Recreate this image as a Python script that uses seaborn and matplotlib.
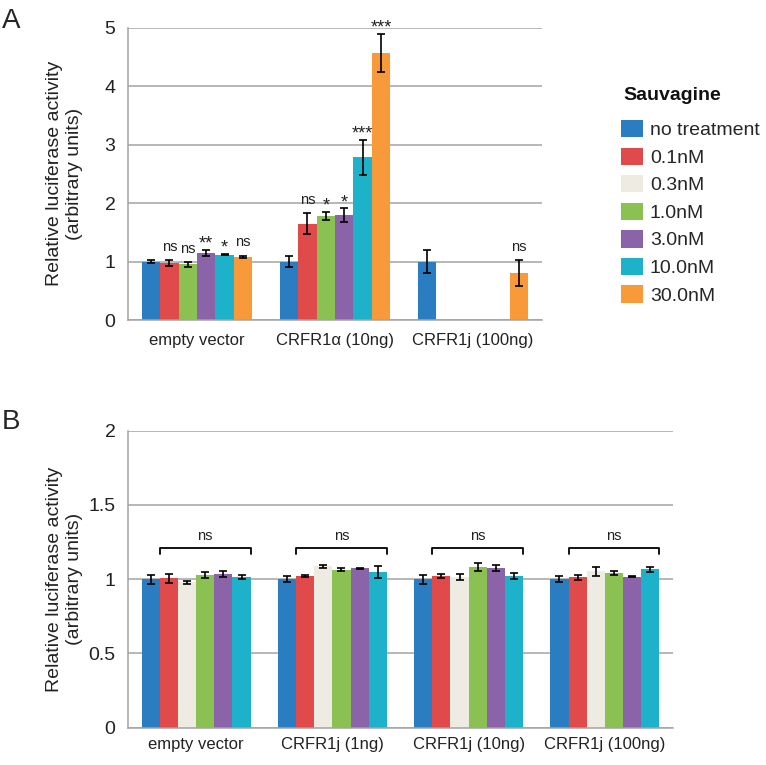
import numpy as np
import pandas as pd
import matplotlib
matplotlib.use('Agg')
import matplotlib.pyplot as plt
import matplotlib.transforms as mtransforms
from matplotlib.patches import Patch
import seaborn as sns

# legend / colour scheme shared by both panels
treatments = ['no treatment', '0.1nM', '0.3nM', '1.0nM', '3.0nM', '10.0nM', '30.0nM']
colors = ['#2a7dc0', '#e04a4b', '#eeebe3', '#8bc053', '#8a63a8', '#1eb1ca', '#f89a3a']

# panel A (0.3nM not tested here)
groups_a = ['empty vector', 'CRFR1α (10ng)', 'CRFR1j (100ng)']
treat_a = ['no treatment', '0.1nM', '1.0nM', '3.0nM', '10.0nM', '30.0nM']
mean_a = [
    [1.00, 1.00, 1.00],
    [0.97, 1.645, np.nan],
    [0.955, 1.78, np.nan],
    [1.15, 1.79, np.nan],
    [1.12, 2.78, np.nan],
    [1.08, 4.57, 0.80],
]
err_a = [
    [0.02, 0.10, 0.20],
    [0.05, 0.18, np.nan],
    [0.04, 0.07, np.nan],
    [0.05, 0.12, np.nan],
    [0.01, 0.30, np.nan],
    [0.02, 0.32, 0.22],
]
sig_a = [
    ['', '', ''],
    ['ns', 'ns', ''],
    ['ns', '*', ''],
    ['**', '*', ''],
    ['*', '***', ''],
    ['ns', '***', 'ns'],
]
yticks_a = [0, 1, 2, 3, 4, 5]
yticklabels_a = ['0', '1', '2', '3', '4', '5']

# panel B (no 30nM)
groups_b = ['empty vector', 'CRFR1j (1ng)', 'CRFR1j (10ng)', 'CRFR1j (100ng)']
treat_b = ['no treatment', '0.1nM', '0.3nM', '1.0nM', '3.0nM', '10.0nM']
mean_b = [
    [1.00, 1.00, 1.00, 1.00],
    [1.007, 1.02, 1.02, 1.013],
    [0.98, 1.088, 1.016, 1.052],
    [1.03, 1.063, 1.08, 1.043],
    [1.034, 1.072, 1.077, 1.016],
    [1.013, 1.05, 1.023, 1.065],
]
err_b = [
    [0.03, 0.02, 0.03, 0.02],
    [0.03, 0.005, 0.015, 0.016],
    [0.01, 0.01, 0.02, 0.03],
    [0.02, 0.01, 0.025, 0.013],
    [0.02, 0.006, 0.02, 0.005],
    [0.013, 0.04, 0.02, 0.017],
]
sig_b = ['ns', 'ns', 'ns', 'ns']
yticks_b = [0, 0.5, 1, 1.5, 2]
yticklabels_b = ['0', '0.5', '1', '1.5', '2']

GRID = '#a3a3a3'
TXT = '#222222'
W, H = 766, 765


def to_frame(groups, treats, means, errs, sigs):
    rows = []
    for t, m_row, e_row, s_row in zip(treats, means, errs, sigs):
        for g, m, e, s in zip(groups, m_row, e_row, s_row):
            if not np.isnan(m):
                rows.append(dict(group=g, treatment=t, value=m, err=e, sig=s))
    return pd.DataFrame(rows)


def draw_panel(ax, df, groups, treats, yticks, yticklabels, xpad):
    sns.barplot(data=df, x='group', y='value', hue='treatment', order=groups,
                hue_order=treats, palette=dict(zip(treatments, colors)),
                errorbar=None, width=0.8, saturation=1, legend=False,
                linewidth=0, ax=ax, zorder=2)
    spans = {}
    for t, cont in zip(treats, ax.containers):
        for bar in cont:
            xc = bar.get_x() + bar.get_width() / 2
            gi = int(round(xc))
            row = df[(df.group == groups[gi]) & (df.treatment == t)].iloc[0]
            ax.errorbar(xc, row.value, yerr=row.err, fmt='none', ecolor='black',
                        elinewidth=1.2, capsize=2.6, capthick=1.2, zorder=3)
            if row.sig == 'ns':
                ax.annotate(row.sig, (xc, row.value + row.err), xytext=(0, 4.5),
                            textcoords='offset points', ha='center', va='bottom',
                            fontsize=10.5, color=TXT)
            elif row.sig:
                ax.annotate(row.sig, (xc, row.value + row.err), xytext=(0, -2),
                            textcoords='offset points', ha='center', va='bottom',
                            fontsize=13, color=TXT)
            lo, hi = spans.get(gi, (np.inf, -np.inf))
            spans[gi] = (min(lo, bar.get_x() + bar.get_width()),
                         max(hi, bar.get_x() + bar.get_width()))

    ax.set_ylim(yticks[0], yticks[-1])
    ax.set_yticks(yticks)
    ax.set_yticklabels(yticklabels)
    ax.set_xlim(-0.5, len(groups) - 0.5)
    ax.set_axisbelow(True)
    ax.yaxis.grid(True, color=GRID, linewidth=1.1)
    ax.xaxis.grid(False)
    for s in ['top', 'right']:
        ax.spines[s].set_visible(False)
    for s in ['left', 'bottom']:
        ax.spines[s].set_color(GRID)
        ax.spines[s].set_linewidth(1.1)
    ax.tick_params(axis='y', length=5, width=1.1, color=GRID, labelsize=14,
                   pad=4, labelcolor=TXT)
    ax.tick_params(axis='x', length=0, labelsize=12, pad=xpad, labelcolor=TXT)
    ax.set_xlabel('')
    ax.set_ylabel('Relative luciferase activity\n(arbitrary units)', fontsize=14,
                  linespacing=1.25, color=TXT)
    trans = mtransforms.blended_transform_factory(ax.figure.transFigure, ax.transAxes)
    ax.yaxis.set_label_coords(83 / W, 0.5, transform=trans)
    return spans


sns.set_style('white')
plt.rcParams['font.family'] = ['Liberation Sans', 'DejaVu Sans']

fig = plt.figure(figsize=(W / 100, H / 100), dpi=100)
ax_a = fig.add_axes([128 / W, 1 - 320 / H, (542 - 128) / W, (320 - 27.7) / H])
ax_b = fig.add_axes([128 / W, 1 - 727.7 / H, (673 - 128) / W, (727.7 - 430.5) / H])

df_a = to_frame(groups_a, treat_a, mean_a, err_a, sig_a)
df_b = to_frame(groups_b, treat_b, mean_b, err_b, [[''] * 4] * 6)

draw_panel(ax_a, df_a, groups_a, treat_a, yticks_a, yticklabels_a, xpad=9)
spans = draw_panel(ax_b, df_b, groups_b, treat_b, yticks_b, yticklabels_b, xpad=7)

# brackets over each group in panel B
for gi, (lo, hi) in spans.items():
    ax_b.plot([lo, lo, hi, hi], [1.17, 1.212, 1.212, 1.17], color='black',
              linewidth=1.3, zorder=4)
    ax_b.annotate(sig_b[gi], ((lo + hi) / 2, 1.212), xytext=(0, 3),
                  textcoords='offset points', ha='center', va='bottom',
                  fontsize=10.5, color=TXT)

# legend
handles = [Patch(facecolor=c, edgecolor='none', label=t) for t, c in zip(treatments, colors)]
fig.text(623 / W, 1 - 95 / H, 'Sauvagine', fontsize=14, fontweight='bold',
         ha='left', va='center', color='#111111')
fig.legend(handles=handles, loc='upper left', bbox_to_anchor=(621 / W, 1 - 120 / H),
           frameon=False, fontsize=14, handlelength=1.13, handleheight=1.0,
           handletextpad=0.36, labelspacing=0.42, borderpad=0, borderaxespad=0)

fig.text(2 / W, 1 - 28 / H, 'A', fontsize=20, va='baseline', ha='left')
fig.text(2 / W, 1 - 429 / H, 'B', fontsize=20, va='baseline', ha='left')

fig.savefig('out.png', dpi=100)
